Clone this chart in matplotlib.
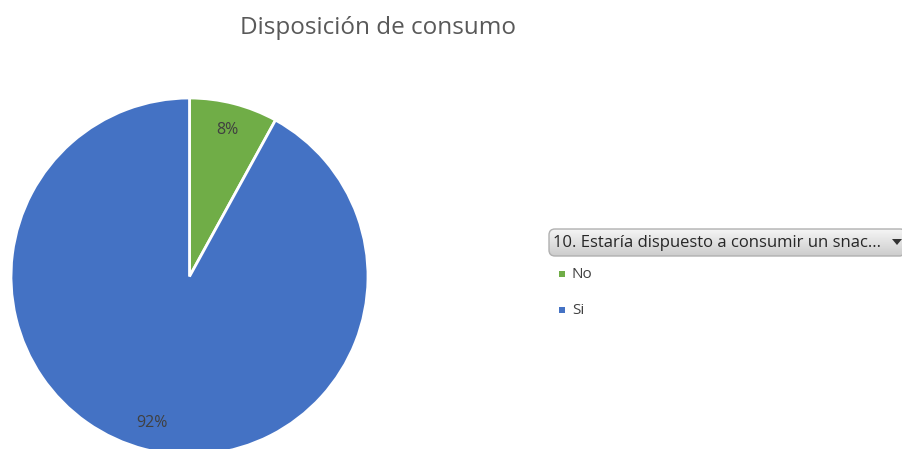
import numpy as np
import matplotlib.pyplot as plt
from matplotlib.patches import FancyBboxPatch, Rectangle, Polygon

labels = ["No", "Si"]
values = [8, 92]
colors = ["#70AD47", "#4472C4"]
title = "Disposición de consumo"
filter_label = "10. Estaría dispuesto a consumir un snac..."

W, H = 903, 449
plt.rcParams['font.family'] = ['Open Sans', 'DejaVu Sans']

fig = plt.figure(figsize=(W / 100, H / 100), dpi=100)


def fx(px):
    return px / W


def fy(py):
    return 1 - py / H


# pie, partly cut by the bottom edge
ax = fig.add_axes([fx(11), fy(455), 357 / W, 357 / H])
wedges, texts, autotexts = ax.pie(
    values, colors=colors, startangle=90, counterclock=False,
    autopct="%1.0f%%", pctdistance=0.85, radius=1,
    wedgeprops=dict(edgecolor="white", linewidth=2),
    textprops=dict(color="#404040", fontsize=11.5))
ax.set_xlim(-1, 1)
ax.set_ylim(-1, 1)
ax.set_aspect("equal")
ax.axis("off")

fig.text(fx(378), fy(28), title, ha="center", va="center",
         fontsize=17.5, color="#595959")

# filter button with a gray gradient
bx0, by0, bx1, by1 = 549, 229, 906, 256
bax = fig.add_axes([0, 0, 1, 1], zorder=-1)
bax.set_xlim(0, W)
bax.set_ylim(H, 0)
bax.axis("off")
grad = np.linspace(0.96, 0.80, 64).reshape(-1, 1)
img = bax.imshow(grad, cmap="gray", vmin=0, vmax=1, aspect="auto",
                 extent=(bx0, bx1, by1, by0))
box = FancyBboxPatch((bx0, by0), bx1 - bx0, by1 - by0,
                     boxstyle="round,pad=0,rounding_size=6",
                     facecolor="none", edgecolor="#B0B0B0", linewidth=1)
bax.add_patch(box)
img.set_clip_path(box)
bax.add_patch(Polygon([[892, 239], [902, 239], [897, 245]], closed=True,
                      facecolor="#333333", edgecolor="none"))
bax.text(553, 243, filter_label, ha="left", va="center",
         fontsize=12, color="#262626")

# legend entries
for i, (lab, col) in enumerate(zip(labels, colors)):
    yy = 274 + i * 36
    bax.add_patch(Rectangle((559, yy - 3), 6, 6, facecolor=col,
                            edgecolor="none"))
    bax.text(572, yy, lab, ha="left", va="center", fontsize=11,
             color="#404040")

fig.savefig("out.png", dpi=100)
